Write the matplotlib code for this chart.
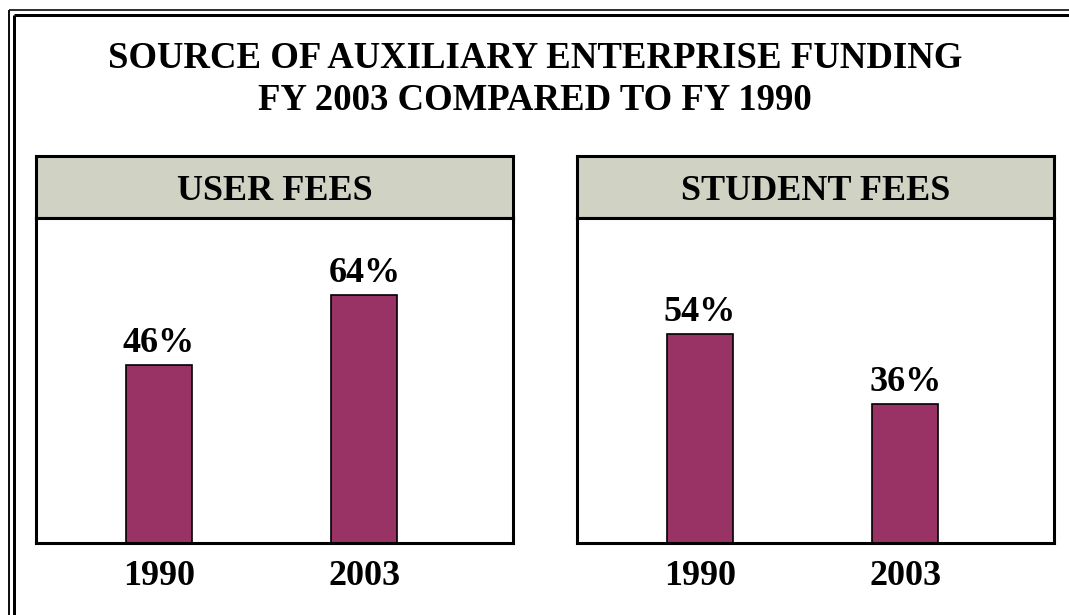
import matplotlib
matplotlib.use("Agg")
import matplotlib.pyplot as plt
from matplotlib.lines import Line2D

plt.rcParams["font.family"] = ["Liberation Serif", "DejaVu Serif"]
plt.rcParams["font.weight"] = "bold"

years = ["1990", "2003"]
user_fees = [46, 64]
student_fees = [54, 36]
panel_titles = ["USER FEES", "STUDENT FEES"]
title_lines = ["SOURCE OF AUXILIARY ENTERPRISE FUNDING", "FY 2003 COMPARED TO FY 1990"]

W, H = 1069, 615
BAR_COLOR = "#993366"
HEAD_COLOR = "#D0D2C4"


def px_rect(x0, y0, x1, y1):
    # pixel box (top-left origin) -> figure fraction rect
    return [x0 / W, 1 - y1 / H, (x1 - x0) / W, (y1 - y0) / H]


fig = plt.figure(figsize=(W / 100, H / 100), dpi=100, facecolor="white")

# double frame along top and left
def frame_line(xs, ys, lw_px, color):
    fig.add_artist(Line2D([x / W for x in xs], [1 - y / H for y in ys],
                          transform=fig.transFigure, color=color,
                          lw=lw_px * 0.72, solid_capstyle="butt"))

frame_line([9, W], [9.5, 9.5], 2, "#333333")
frame_line([9, 9], [9.5, H], 2, "#111111")
frame_line([13.5, W], [14.5, 14.5], 3, "black")
frame_line([13.5, 13.5], [14.5, H], 3, "black")

fig.text(535 / W, 1 - 68 / H, title_lines[0], ha="center", va="baseline",
         fontsize=26.5, fontweight="bold")
fig.text(535 / W, 1 - 110 / H, title_lines[1], ha="center", va="baseline",
         fontsize=26.5, fontweight="bold")

panels = [(36, 513, user_fees), (577, 1054, student_fees)]

for (x0, x1, values), head in zip(panels, panel_titles):
    # header strip
    hax = fig.add_axes(px_rect(x0, 156, x1, 218))
    hax.set_facecolor(HEAD_COLOR)
    hax.set_xticks([])
    hax.set_yticks([])
    for s in hax.spines.values():
        s.set_linewidth(2.2)
        s.set_color("black")
    hax.text(0.5, 0.29, head, transform=hax.transAxes, ha="center",
             va="baseline", fontsize=26, fontweight="bold")

    # bar area
    ax = fig.add_axes(px_rect(x0, 218, x1, 543))
    pos = range(len(years))
    ax.bar(pos, values, width=0.32, color=BAR_COLOR, edgecolor="black",
           linewidth=1.2, zorder=2)
    ax.set_xlim(-0.597, 1.723)
    ax.set_ylim(0, 84)
    ax.set_yticks([])
    ax.set_xticks(list(pos))
    ax.set_xticklabels(years, fontsize=26, fontweight="bold")
    ax.tick_params(axis="x", length=0, pad=12)
    for s in ax.spines.values():
        s.set_linewidth(2.2)
        s.set_color("black")
    for p, v in zip(pos, values):
        ax.annotate(f"{v}%", (p, v), xytext=(0, 9.5), textcoords="offset points",
                    ha="center", va="baseline", fontsize=26, fontweight="bold")

fig.savefig("out.png", dpi=100, facecolor="white")
